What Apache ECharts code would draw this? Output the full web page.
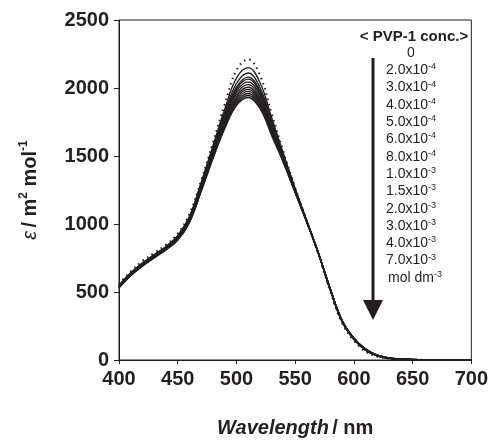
<!DOCTYPE html>
<html>
<head>
<meta charset="utf-8">
<script src="https://cdn.jsdelivr.net/npm/echarts@6/dist/echarts.min.js"></script>
<style>
  html, body { margin: 0; padding: 0; background: #fff; }
  #main { width: 491px; height: 443px; }
</style>
</head>
<body>
<div id="main"></div>
<script>
// wavelength / nm
var wl = [400, 410, 420, 430, 440, 450, 460, 470, 480, 490, 500, 510, 520, 530, 540, 550,
          560, 570, 580, 590, 600, 610, 620, 630, 640, 650, 660, 670, 680, 690, 700];

// epsilon / m2 mol-1, one array per PVP-1 conc.
var eps0    = [560, 652, 728, 788, 848, 930, 1074, 1322, 1598, 1880, 2130, 2210, 2095, 1810, 1530, 1268, 1020, 772, 500, 270, 142, 62, 25, 10, 4, 2, 1, 0, 0, 0, 0];
var eps2e4  = [550, 642, 715, 775, 835, 916, 1057, 1306, 1575, 1843, 2072, 2150, 2040, 1781, 1518, 1262, 1020, 778, 510, 280, 150, 70, 29, 12, 5, 2, 1, 0, 0, 0, 0];
var eps3e4  = [547, 639, 711, 771, 831, 911, 1051, 1299, 1561, 1821, 2033, 2110, 2004, 1758, 1510, 1258, 1020, 780, 513, 283, 152, 72, 30, 12, 5, 3, 1, 1, 0, 0, 0];
var eps4e4  = [545, 637, 708, 768, 828, 907, 1046, 1292, 1551, 1806, 2006, 2080, 1980, 1742, 1501, 1254, 1019, 781, 515, 285, 154, 74, 31, 13, 6, 3, 1, 1, 0, 0, 0];
var eps5e4  = [543, 635, 706, 766, 826, 904, 1042, 1286, 1543, 1794, 1992, 2065, 1967, 1733, 1496, 1252, 1018, 782, 516, 286, 155, 75, 32, 13, 6, 3, 1, 1, 0, 0, 0];
var eps6e4  = [542, 633, 704, 764, 824, 901, 1038, 1280, 1535, 1782, 1975, 2045, 1950, 1721, 1490, 1249, 1017, 782, 517, 287, 156, 76, 32, 13, 6, 3, 2, 1, 0, 0, 0];
var eps8e4  = [540, 631, 702, 762, 822, 898, 1034, 1274, 1527, 1770, 1958, 2025, 1932, 1709, 1483, 1246, 1016, 782, 518, 288, 157, 77, 33, 14, 6, 3, 2, 1, 0, 0, 0];
var eps1e3  = [538, 629, 700, 760, 820, 895, 1030, 1268, 1519, 1758, 1940, 2005, 1915, 1697, 1476, 1243, 1015, 782, 519, 289, 158, 78, 34, 14, 6, 3, 2, 1, 1, 0, 0];
var eps15e3 = [537, 628, 698, 758, 818, 892, 1026, 1262, 1511, 1747, 1927, 1990, 1902, 1687, 1470, 1240, 1014, 781, 519, 289, 159, 79, 34, 14, 7, 4, 2, 1, 1, 0, 0];
var eps2e3  = [535, 626, 696, 756, 816, 889, 1022, 1256, 1503, 1735, 1912, 1975, 1889, 1678, 1465, 1237, 1013, 781, 520, 290, 159, 79, 34, 15, 7, 4, 2, 1, 1, 0, 0];
var eps3e3  = [534, 624, 694, 754, 814, 886, 1018, 1250, 1495, 1723, 1898, 1960, 1876, 1669, 1460, 1235, 1012, 781, 520, 290, 160, 80, 35, 15, 7, 4, 2, 1, 1, 0, 0];
var eps4e3  = [532, 622, 692, 752, 812, 883, 1014, 1245, 1488, 1712, 1884, 1945, 1863, 1660, 1455, 1232, 1011, 780, 520, 290, 160, 80, 35, 15, 7, 4, 2, 1, 1, 0, 0];
var eps7e3  = [530, 620, 690, 750, 810, 880, 1010, 1240, 1480, 1700, 1870, 1930, 1850, 1650, 1450, 1230, 1010, 780, 520, 290, 160, 80, 35, 15, 7, 4, 2, 1, 1, 0, 0];

var concLabels = [['0', ''], ['2.0x10', '-4'], ['3.0x10', '-4'], ['4.0x10', '-4'], ['5.0x10', '-4'],
                  ['6.0x10', '-4'], ['8.0x10', '-4'], ['1.0x10', '-3'], ['1.5x10', '-3'], ['2.0x10', '-3'],
                  ['3.0x10', '-3'], ['4.0x10', '-3'], ['7.0x10', '-3']];
var allEps = [eps0, eps2e4, eps3e4, eps4e4, eps5e4, eps6e4, eps8e4, eps1e3, eps15e3, eps2e3, eps3e3, eps4e3, eps7e3];

var chart = echarts.init(document.getElementById('main'), null, { renderer: 'canvas' });

var ink = '#231f20';
var font = '"Liberation Sans", Arial, sans-serif';

var series = allEps.map(function (arr, i) {
    return {
        name: concLabels[i].join(''),
        type: 'line',
        showSymbol: false,
        smooth: 0.4,
        animation: false,
        lineStyle: i === 0
            ? { color: ink, width: 2, type: [1.5, 4] }
            : { color: ink, width: 1.4 },
        data: wl.map(function (w, k) { return [w, arr[k]]; })
    };
});

// legend text lines
var legendX = 411;
var supRich = {
    a: { font: '14px ' + font, fill: ink, lineHeight: 16 },
    s: { font: '9px ' + font, fill: ink, verticalAlign: 'top', lineHeight: 16, padding: [0, 0, 6, 0] }
};
var graphics = [{
    type: 'text', x: 414, y: 37,
    style: { text: '< PVP-1 conc.>', font: 'bold 15px ' + font, fill: ink, align: 'center', verticalAlign: 'middle' }
}];
concLabels.forEach(function (lab, i) {
    graphics.push({
        type: 'text', x: legendX, y: 53 + i * 17.3,
        style: {
            text: lab[1] ? '{a|' + lab[0] + '}{s|' + lab[1] + '}' : '{a|' + lab[0] + '}',
            align: 'center', verticalAlign: 'middle', rich: supRich
        }
    });
});
graphics.push({
    type: 'text', x: legendX + 4, y: 53 + 13 * 17.3,
    style: { text: '{a|mol dm}{s|-3}', align: 'center', verticalAlign: 'middle', rich: supRich }
});
// arrow
graphics.push({
    type: 'line', shape: { x1: 373, y1: 58, x2: 373, y2: 302 },
    style: { stroke: ink, lineWidth: 3 }
});
graphics.push({
    type: 'polygon', shape: { points: [[363, 300], [383, 300], [373, 320]] },
    style: { fill: ink }
});

var option = {
    backgroundColor: '#fff',
    animation: false,
    grid: {
        left: 119, right: 19, top: 20, bottom: 83,
        show: true, borderColor: ink, borderWidth: 1
    },
    xAxis: {
        type: 'value', min: 400, max: 700, interval: 50,
        name: '{i|Wavelength} {b|/ nm}',
        nameLocation: 'middle', nameGap: 58,
        nameTextStyle: {
            rich: {
                i: { fontFamily: font, fontWeight: 'bold', fontStyle: 'italic', fontSize: 20, color: ink },
                b: { fontFamily: font, fontWeight: 'bold', fontSize: 20, color: ink }
            }
        },
        axisLine: { onZero: false, lineStyle: { color: ink, width: 1 } },
        axisTick: { inside: false, length: 4, lineStyle: { color: ink } },
        axisLabel: { color: ink, fontFamily: font, fontWeight: 'bold', fontSize: 20, margin: 9,
                     formatter: function (v) { return String(v); } },
        splitLine: { show: false }
    },
    yAxis: {
        type: 'value', min: 0, max: 2500, interval: 500,
        name: '{e|ε} {b|/ m}{s|2}{b| mol}{s|-1}',
        nameLocation: 'middle', nameGap: 77, nameRotate: 90,
        nameTextStyle: {
            rich: {
                e: { fontFamily: font, fontStyle: 'italic', fontSize: 20, color: ink, lineHeight: 24 },
                b: { fontFamily: font, fontWeight: 'bold', fontSize: 20, color: ink, lineHeight: 24 },
                s: { fontFamily: font, fontWeight: 'bold', fontSize: 12, color: ink, verticalAlign: 'top', lineHeight: 24, padding: [0, 0, 8, 0] }
            }
        },
        axisLine: { show: true, lineStyle: { color: ink, width: 1 } },
        axisTick: { show: true, length: 5, lineStyle: { color: ink } },
        axisLabel: { color: ink, fontFamily: font, fontWeight: 'bold', fontSize: 20, margin: 10,
                     formatter: function (v) { return String(v); } },
        splitLine: { show: false }
    },
    graphic: graphics,
    series: series
};

chart.setOption(option);
</script>
</body>
</html>
